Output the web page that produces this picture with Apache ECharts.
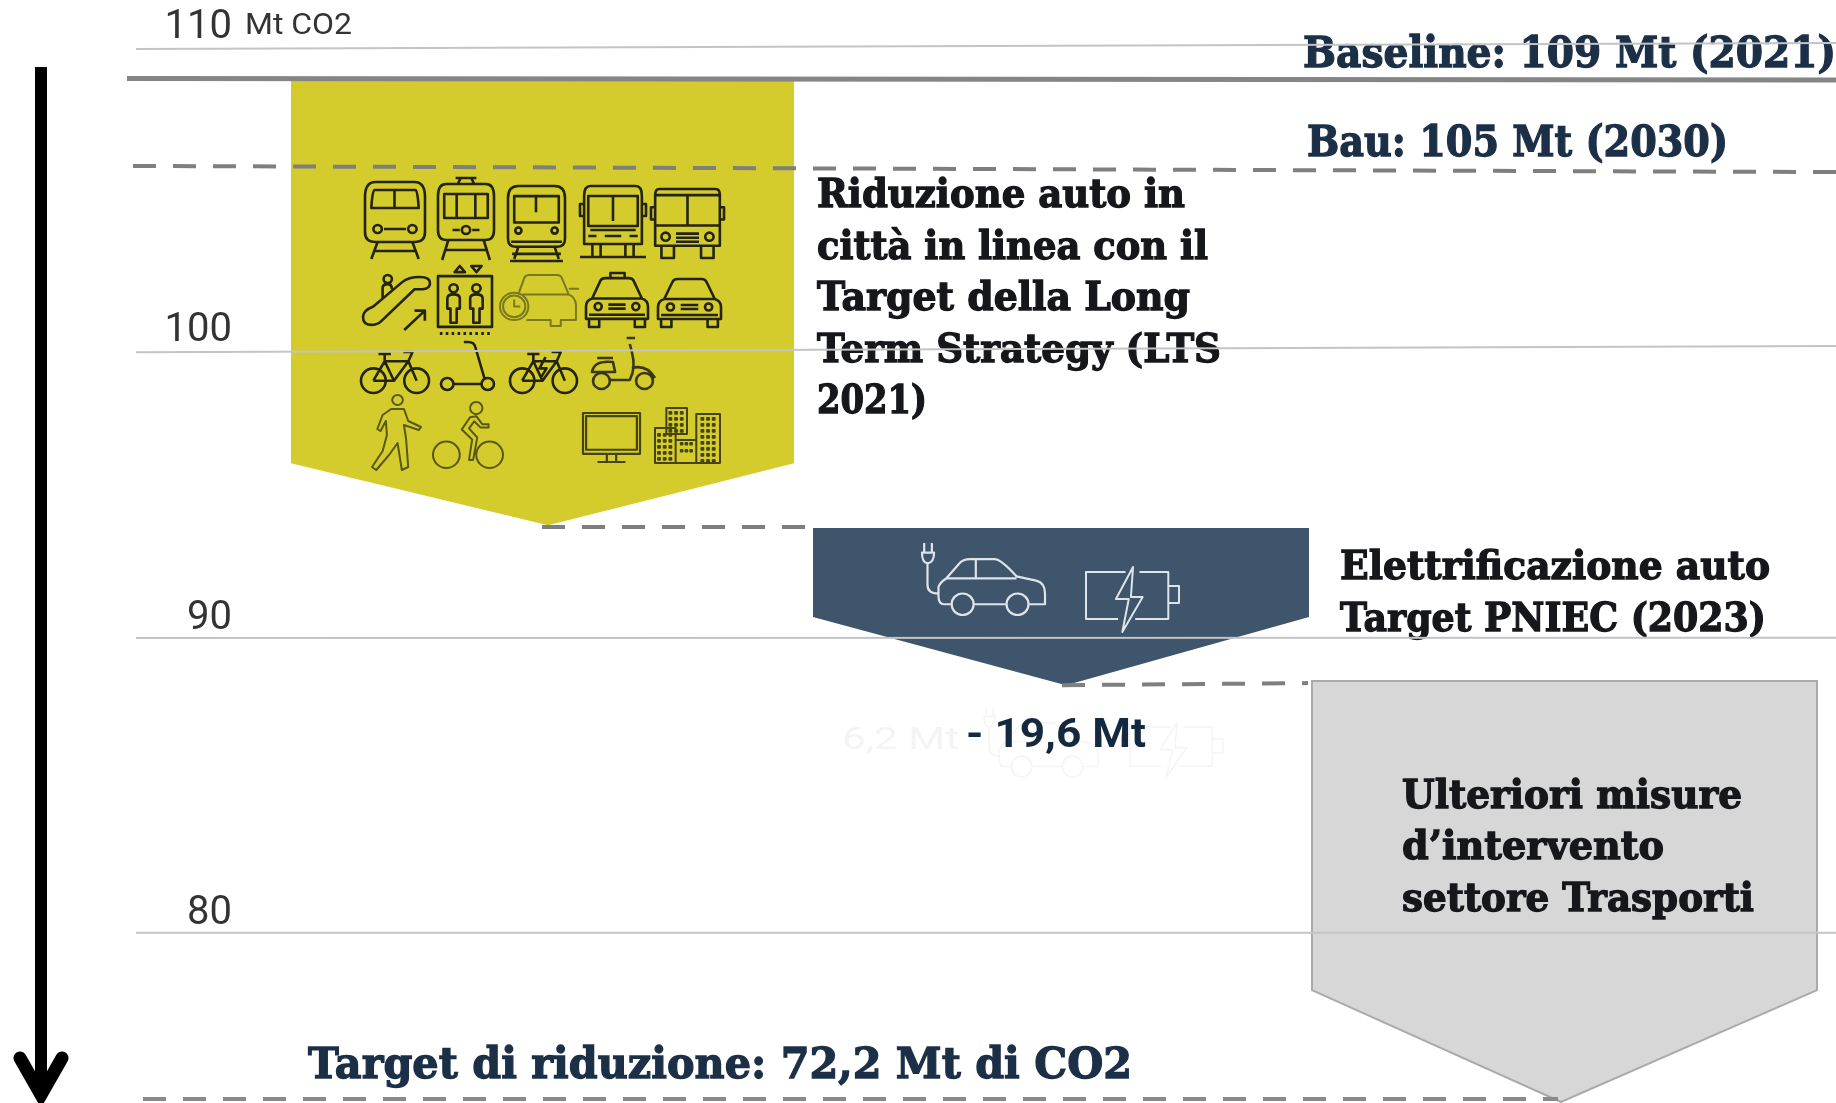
<!DOCTYPE html>
<html><head><meta charset="utf-8">
<style>html,body{margin:0;padding:0;background:#fff;overflow:hidden}#c{width:1836px;height:1103px}</style>
<script src="https://cdn.jsdelivr.net/npm/echarts@6/dist/echarts.min.js"></script>
</head><body><div id="c"></div>
<script>
// ---- data (y in Mt CO2 on the axis, x in horizontal chart units)
const tickValues = [110, 100, 90, 80];
const gridLine110 = [[136,109.94],[1836,110.14]];
const gridLine100 = [[136,99.67],[1836,99.88]];
const gridLine90  = [[136,89.99],[1836,90.0]];
const gridLine80  = [[136,80.0],[1836,80.0]];
const baselineLine = [[127,108.94],[1836,108.89]];
const bauLine = [[133,105.98],[1836,105.77]];
const step1Link = [[542,93.75],[806,93.75]];
const step2Link = [[1062,88.39],[1308,88.46]];
const targetLine = [[143,74.37],[1558,74.37]];
const arrowShaft = [[41,109.33],[41,74.6]];
const arrowHead = [[20,75.76],[41,74.51],[62,75.76]];
// chevrons: left, right, tip x, top, shoulder, tip
const chevronYellow = [291,794,548,108.9,95.91,93.81];
const chevronBlue   = [813,1309,1066,93.71,90.70,88.39];
const chevronGrey   = [1312,1817,1561,88.53,78.06,74.27];

// ---- text
const annotations = [
 ['Baseline: 109 Mt (2021)',1303,109.71,533,'h43'],
 ['Bau: 105 Mt (2030)',1307,106.70,421,'h43'],
 ['Riduzione auto in',817,104.94,368,'b'],
 ['città in linea con il',817,103.18,391,'b'],
 ['Target della Long',817,101.45,373,'b'],
 ['Term Strategy (LTS',817,99.69,404,'b'],
 ['2021)',817,97.96,110,'b'],
 ['Elettrificazione auto',1340,92.33,430,'b'],
 ['Target PNIEC (2023)',1340,90.57,426,'b'],
 ['Ulteriori misure',1402,84.58,340,'b'],
 ['d’intervento',1402,82.85,262,'b'],
 ['settore Trasporti',1402,81.09,352,'b'],
 ['Target di riduzione: 72,2 Mt di CO2',308,75.46,824,'h43'],
 ['- 19,6 Mt',966,86.64,180,'n'],
 ['Mt CO2',245,110.71,107,'u'],
 ['6,2 Mt',842,86.5,117,'g']
];
const textStyles = {
 h43:{font:'bold 43px "DejaVu Serif"',fill:'#1b2f47',stroke:'#1b2f47',lineWidth:1.3},
 b:{font:'bold 39px "DejaVu Serif"',fill:'#15171b',stroke:'#15171b',lineWidth:1.3},
 n:{font:'bold 41px Roboto',fill:'#14293f'},
 u:{font:'30px Roboto',fill:'#333333'},
 g:{font:'32px Roboto',fill:'#f4f4f4'}
};

// ---- icon outlines
const c=(x,y,r)=>`M${x-r} ${y}a${r} ${r} 0 1 0 ${2*r} 0a${r} ${r} 0 1 0 ${-2*r} 0z`;
const r=(x,y,w,h)=>`M${x} ${y}h${w}v${h}h${-w}z`;
let ticks='';for(let i=0;i<9;i++)ticks+=`M${3+i*5.7} 65v3`;
let cityWin='';
[[14,4,3,4],[3,26,3,5],[45,10,3,8]].forEach(b=>{for(let j=0;j<b[3];j++)for(let i=0;i<b[2];i++)cityWin+=r(b[0]+i*5.5,b[1]+j*6,1.8,1.8);});
for(let i=0;i<3;i++)cityWin+=r(25+i*4.6,35,1.6,1.6)+r(25+i*4.6,42,1.6,1.6);
const carFront='M6 20L14 3Q15 0 19 0H42Q46 0 47 3L55 20Q61 22 61 28V40H0V28Q0 22 6 20zM3 40V48H13V40M48 40V48H58V40M6 20H55'+c(12,28,3.5)+c(49,28,3.5)+'M22 26H39M22 30H39M3 36H58';
const bikeBase=c(12,29,12)+c(54,29,12)+'M12 29L23 10H46L54 29M23 10L32 29L46 10M32 29H12M17 3H29M23 3V10M41 1H50L46 10';
const iconPaths={
 train:'M10 0H47Q57 0 57 15V50Q57 60 47 60H10Q0 60 0 50V15Q0 0 10 0zM9 8H48Q50 8 51 26H6Q7 8 9 8zM28 8V26'+c(12,47,4)+c(45,47,4)+'M18 47H39M12 60L6 77M45 60L51 77M8 69H49',
 tram:'M17 0H37M22 0L19 6M32 0L35 6M8 6H46Q54 6 54 18V52Q54 62 46 62H8Q0 62 0 52V18Q0 6 8 6z'+r(6,16,42,24)+'M18 16V40M36 16V40'+c(27,52,4)+'M14 52H21M33 52H40M10 62L4 82M44 62L50 82M6 72H48',
 metro:'M10 0H45Q55 0 55 12V52Q55 60 47 60H8Q0 60 0 52V12Q0 0 10 0z'+r(6,10,43,26)+'M20 10H35M27 10V26'+c(10,44,3)+c(45,44,3)+'M3 55H52M10 60L6 72M45 60L49 72M4 67H51M2 74H53',
 bus1:'M10 0H54Q60 0 60 10V58H4V10Q4 0 10 0zM4 18H0V30H4M60 18H64V30H60'+r(8,10,48,30)+'M32 10V35M24 10H40M10 44H54M8 50H16M24 50H40M48 50H56M12 58V70M20 58V70M44 58V70M52 58V70M0 71H64',
 bus2:'M8 0H62Q66 0 66 6V56H4V6Q4 0 8 0zM4 18H0V30H4M66 18H70V30H66M35 6V36M4 36H66M4 6H66'+c(14,47,4)+c(56,47,4)+'M24 44H46M24 48H46M24 52H46M10 56V68H22V56M48 56V68H60V56',
 escalator:'M10 32L38 8Q44 3 55 3Q65 3 65 9Q65 14 58 15H50L18 46Q14 50 8 50Q0 50 0 42Q0 36 10 32z'+c(24,5,4)+'M19 24V14Q19 10 24 10Q28 10 28 15M40 55L60 36M50 36H60V46',
 lift:'M16 6L21 0L26 6zM32 0H42L37 6z'+r(0,10,52,50)+c(15,22,4)+c(37,22,4)+'M9 32Q9 28 15 28Q21 28 21 32V42H18V56H12V42H9zM31 32Q31 28 37 28Q43 28 43 32V42H40V56H34V42H31z'+ticks,
 car:carFront,
 taxi:carFront+'M24 0V-5H38V0',
 clockcar:'M18 20L24 3Q25 0 29 0H56Q60 0 61 3L68 20Q74 22 75 30V46H60V52H50V46H26M22 20H68'+c(14,32,14)+c(14,32,11)+'M14 25V32H20M68 14H78',
 bike:bikeBase,
 ebike:bikeBase+'M35 6L29 17H36L31 25',
 scooter:c(6,42,6)+c(45,42,6)+'M12 42H39M42 37L33 5Q32 0 26 0H22',
 moped:c(9,43,8)+c(50,43,8)+'M17 42H36Q42 30 38 14L36 6M33 0H41M0 34Q2 22 20 24L22 34H2zM5 20H20M38 30Q52 26 60 40',
 walker:c(24,5,5)+'M18 14L30 14L34 26L46 32L44 35L30 30L32 44L34 72L28 75L24 48L16 60L4 75L0 72L10 56L14 40L13 26L8 36L5 34L10 20z',
 cyclist:c(13,53,13)+c(55,53,13)+c(42,7,6)+'M36 16L28 28L38 38L35 58L39 58L43 36L35 27L40 20L46 26H54V23H48L42 15z',
 monitor:r(0,0,55,40)+r(3,3,49,33)+'M23 40V47M32 40V47M14 48H41',
 city:r(11,0,20,26)+r(0,20,20,35)+r(20,32,20,23)+r(40,6,23,49)+cityWin,
 ev:'M2 12H13Q13 21 7 22Q2 21 2 12zM4 12V3M11 12V3M7 22V42Q7 50 17 50M28 60H22Q17 60 17 52V44Q18 40 24 36L36 22Q39 18 46 18H68Q74 18 88 34L106 38Q114 40 114 50V60H100M78 60H50M51 18V36M24 36H88'+c(39,60,10)+c(89,60,10),
 battery:'M30 52H0V5H37M50 5H77V52H46M77 19H87V36H77M44 0L28 32H40L34 65L53 30H42L44 0z'
};
// name, left, right, top, bottom, colour, stroke width
const ink='#24230c';
const icons=[
 ['train',365,425,182,259,ink,2.6],['tram',438,494,178,260,ink,2.6],['metro',508,565,186,261,ink,2.6],['bus1',580,646,186,257,ink,2.6],['bus2',651,724,189,258,ink,2.6],
 ['escalator',363,430,275,330,ink,2.6],['lift',438,492,266,335,ink,2.6],['clockcar',500,579,275,326,'#7b7820',2],['taxi',586,648,273,327,ink,2.6],['car',658,721,279,327,ink,2.6],
 ['bike',361,429,352,393,ink,2.6],['scooter',441,494,342,390,ink,2.6],['ebike',510,577,352,393,ink,2.6],['moped',592,655,338,389,'#3a3813',2.6],
 ['walker',372,421,395,470,'#5a5814',2],['cyclist',433,503,402,468,'#5a5814',2],['monitor',583,640,413,462,'#45430f',2.2],['city',655,720,408,463,'#45430f',2],
 ['ev',922,1045,543,615,'#dde4ea',2.2],['battery',1086,1179,567,632,'#dde4ea',2],
 ['ev',984,1098,707,777,'#f5f5f5',1.6],['battery',1130,1223,723,777,'#f5f5f5',1.6]
];

const measure=document.createElement('canvas').getContext('2d');
const lineSeries=(name,data,color,width,type,extra)=>Object.assign({name,type:'line',data,symbol:'none',silent:true,clip:false,animation:false,
  lineStyle:{color,width,type:type||'solid',cap:'butt'}},extra||{});
const dash=[23,17];
const chevron=(name,data,fill,stroke)=>({name,type:'custom',silent:true,animation:false,clip:false,data:[data],
  renderItem:(p,api)=>{
    const [l,rt,tx,t,s,v]=[0,1,2,3,4,5].map(i=>api.value(i));
    const pts=[[l,t],[rt,t],[rt,s],[tx,v],[l,s]].map(q=>api.coord(q));
    return {type:'polygon',shape:{points:pts},style:{fill,stroke:stroke||null,lineWidth:stroke?2:0}};
  }});

const chart=echarts.init(document.getElementById('c'),null,{renderer:'canvas'});
chart.setOption({
 animation:false,backgroundColor:'#ffffff',
 grid:{left:0,right:0,top:0,bottom:0,containLabel:false},
 xAxis:{type:'value',min:0,max:1836,show:false},
 yAxis:{type:'value',min:74.236,max:111.6,position:'left',
  axisLine:{show:false},axisTick:{show:false},splitLine:{show:false},
  axisLabel:{inside:true,margin:232,align:'right',verticalAlign:'bottom',lineHeight:38,
    customValues:tickValues,showMinLabel:true,showMaxLabel:true,
    fontFamily:'Roboto',fontSize:40,color:'#333333',
    formatter:v=>v===100?'{up|100}':String(v),
    rich:{up:{fontFamily:'Roboto',fontSize:40,color:'#333333',lineHeight:22}}}},
 series:[
  lineSeries('Griglia 110',gridLine110,'#c4c4c4',2),
  lineSeries('Griglia 100',gridLine100,'#c4c4c4',2),
  lineSeries('Griglia 90',gridLine90,'#c4c4c4',2),
  lineSeries('Griglia 80',gridLine80,'#c4c4c4',2),
  chevron('Riduzione auto in città',chevronYellow,'rgba(209,199,28,0.93)'),
  chevron('Elettrificazione auto',chevronBlue,'rgba(47,72,96,0.93)'),
  chevron('Ulteriori misure',chevronGrey,'rgba(212,212,212,0.93)','#aaaaaa'),
  lineSeries('Baseline',baselineLine,'#858585',5),
  lineSeries('BAU',bauLine,'#7f7f7f',4,dash),
  lineSeries('Collegamento 1',step1Link,'#7f7f7f',4,dash),
  lineSeries('Collegamento 2',step2Link,'#7f7f7f',4,dash),
  lineSeries('Target',targetLine,'#8a8a8a',4,dash),
  lineSeries('Freccia',arrowShaft,'#000000',12),
  lineSeries('Punta',arrowHead,'#000000',13,'solid',{lineStyle:{color:'#000',width:13,cap:'round',join:'miter',miterLimit:10}}),
  {name:'Icone',type:'custom',silent:true,animation:false,clip:false,data:icons.map((d,i)=>[i]),
   renderItem:(p,api)=>{
     const d=icons[api.value(0)];
     return {type:'path',shape:{pathData:iconPaths[d[0]],x:d[1],y:d[3],width:d[2]-d[1],height:d[4]-d[3],layout:'cover'},
       style:{fill:'none',stroke:d[5],lineWidth:d[6],lineJoin:'round'}};
   }},
  {name:'Testi',type:'custom',silent:true,animation:false,clip:false,data:annotations.map((a,i)=>[a[1],a[2],i]),
   renderItem:(p,api)=>{
     const a=annotations[api.value(2)], st=textStyles[a[4]];
     const pt=api.coord([api.value(0),api.value(1)]);
     measure.font=st.font;
     const sx=a[3]/measure.measureText(a[0]).width;
     return {type:'text',x:pt[0],y:pt[1],scaleX:sx,scaleY:1,
       style:Object.assign({text:a[0],textAlign:'left',textVerticalAlign:'middle'},st)};
   }}
 ]
});
</script></body></html>
